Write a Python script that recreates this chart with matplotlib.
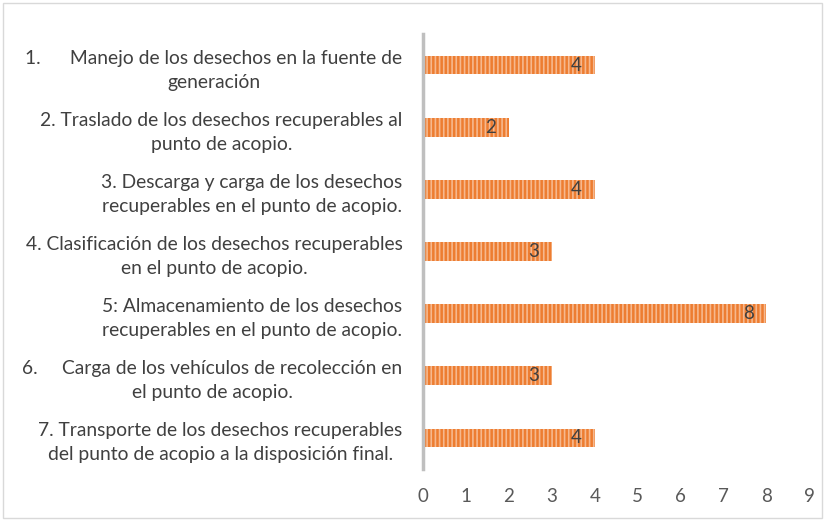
import matplotlib.pyplot as plt
from matplotlib.patches import Rectangle

categories = [
    "1.      Manejo de los desechos en la fuente de\ngeneración",
    "2. Traslado de los desechos recuperables al\npunto de acopio.",
    "3. Descarga y carga de los desechos\nrecuperables en el punto de acopio.",
    "4. Clasificación de los desechos recuperables\nen el punto de acopio.",
    "5: Almacenamiento de los desechos\nrecuperables en el punto de acopio.",
    "6.     Carga de los vehículos de recolección en\nel punto de acopio.",
    "7. Transporte de los desechos recuperables\ndel punto de acopio a la disposición final.",
]
values = [4, 2, 4, 3, 8, 3, 4]
xticks = list(range(0, 10))

plt.rcParams['font.family'] = ['Lato', 'DejaVu Sans']
plt.rcParams['hatch.linewidth'] = 1.2

fig = plt.figure(figsize=(8.25, 5.21), dpi=100)
ax = fig.add_axes([0.513, 0.0998, 0.468, 0.835])

ypos = list(range(len(categories)))
bars = ax.barh(ypos, values, height=0.3, color='#ED7D31',
               edgecolor='#F6B88E', linewidth=0, hatch='||||')

for b, v in zip(bars, values):
    ax.text(b.get_width() - 0.3, b.get_y() + b.get_height() / 2, str(v),
            ha='right', va='center', fontsize=13.5, color='#404040')

ax.set_ylim(len(categories) - 0.5, -0.5)
ax.set_xlim(0, 9)
ax.set_xticks(xticks)
ax.set_yticks(ypos)
ax.set_yticklabels(categories, fontsize=13.9, color='#404040',
                   multialignment='center', linespacing=1.5)
ax.tick_params(axis='x', length=0, pad=14, labelsize=13.5, labelcolor='#595959')
ax.tick_params(axis='y', length=0, pad=15)

for s in ['top', 'right', 'bottom']:
    ax.spines[s].set_visible(False)
ax.spines['left'].set_color('#BFBFBF')
ax.spines['left'].set_linewidth(2.5)

fig.patches.append(Rectangle((0.004, 0.006), 0.992, 0.988, transform=fig.transFigure,
                             fill=False, edgecolor='#D9D9D9', linewidth=1))

fig.savefig('out.png', dpi=100)
